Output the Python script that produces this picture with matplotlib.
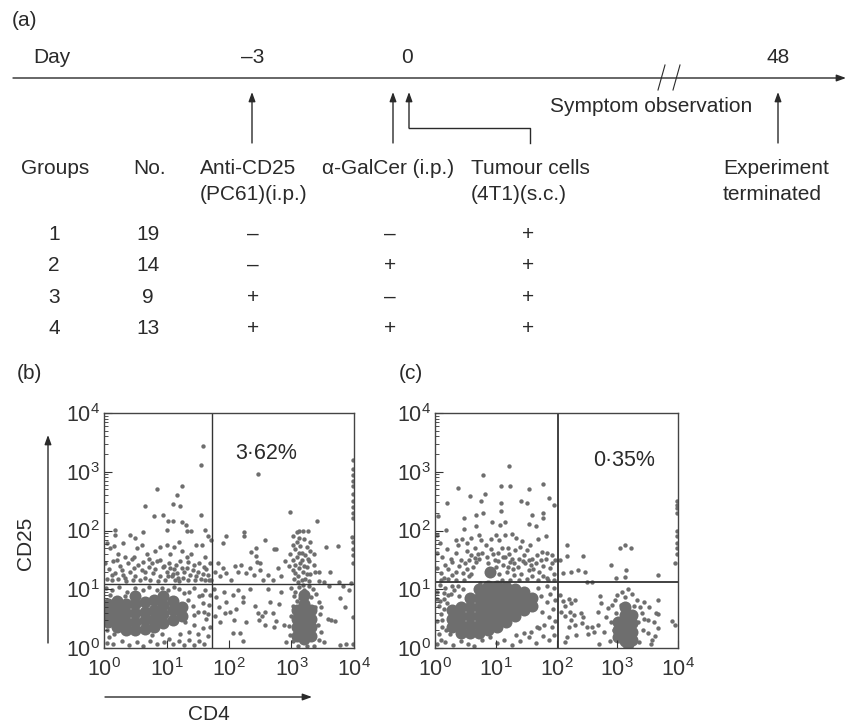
import numpy as np
import matplotlib
matplotlib.use("Agg")
import matplotlib.pyplot as plt

plt.rcParams["font.family"] = ["Liberation Sans", "DejaVu Sans"]
plt.rcParams["mathtext.fontset"] = "custom"
plt.rcParams["mathtext.rm"] = "Liberation Sans"
plt.rcParams["mathtext.it"] = "Liberation Sans"
plt.rcParams["mathtext.default"] = "rm"

###############################################################################
# Data
group_ids = ["1", "2", "3", "4"]
group_sizes = ["19", "14", "9", "13"]
anti_cd25 = ["–", "–", "+", "+"]
galcer = ["–", "+", "–", "+"]
tumour = ["+", "+", "+", "+"]

decades = [0, 1, 2, 3, 4]
gate_b = (1.73, 1.09)
gate_c = (2.02, 1.12)

# log10(CD4), log10(CD25)
b_outliers = [(1.58, 3.43), (1.55, 3.11), (2.46, 2.96), (0.85, 2.71), (1.25, 2.75), (1.17, 2.60),
              (0.66, 2.42), (1.10, 2.45), (1.22, 2.42), (0.80, 2.24), (0.95, 2.27), (1.55, 2.27),
              (2.98, 2.31), (0.17, 2.01), (1.02, 2.16), (1.10, 2.16), (1.25, 2.14), (1.31, 2.09),
              (1.00, 2.01), (1.33, 2.00), (1.40, 2.00), (1.61, 2.01), (0.62, 1.97), (0.41, 1.93),
              (0.49, 1.88), (1.66, 1.90), (1.72, 1.83), (0.17, 1.92), (1.95, 1.90), (1.91, 1.79),
              (2.24, 1.97), (2.24, 1.90), (2.57, 1.83), (2.43, 1.70), (2.36, 1.64), (2.72, 1.68),
              (2.75, 1.68), (2.43, 1.56), (2.49, 1.45), (3.41, 2.16), (3.55, 1.72), (3.75, 1.74),
              (3.99, 3.20), (3.99, 3.05), (3.99, 2.95), (3.99, 2.85), (3.99, 2.75), (3.99, 2.62),
              (3.99, 2.50), (3.99, 2.40), (3.99, 2.30), (3.99, 2.22), (3.97, 1.89), (3.99, 1.80),
              (3.99, 1.68), (3.99, 1.58), (3.99, 1.45)]
b_upper_left = [(0.05, 1.78), (0.10, 1.70), (0.16, 1.74), (0.22, 1.60), (0.30, 1.78), (0.34, 1.55),
                (0.48, 1.55), (0.52, 1.70), (0.60, 1.75), (0.68, 1.60), (0.72, 1.52), (0.82, 1.65),
                (0.90, 1.72), (1.00, 1.75), (1.06, 1.60), (1.12, 1.72), (1.20, 1.80), (1.25, 1.65),
                (1.32, 1.55), (1.40, 1.60), (1.48, 1.75), (1.56, 1.75), (1.62, 1.55), (0.02, 1.45),
                (0.08, 1.35), (0.14, 1.48), (0.18, 1.28), (0.25, 1.40), (0.30, 1.25), (0.38, 1.45),
                (0.42, 1.30), (0.50, 1.22), (0.55, 1.42), (0.60, 1.32), (0.66, 1.20), (0.72, 1.38),
                (0.78, 1.28), (0.84, 1.48), (0.90, 1.22), (0.94, 1.38), (1.00, 1.30), (1.04, 1.45),
                (1.08, 1.22), (1.12, 1.35), (1.17, 1.28), (1.22, 1.48), (1.26, 1.20), (1.32, 1.36),
                (1.38, 1.24), (1.44, 1.42), (1.50, 1.30), (1.55, 1.18), (1.60, 1.38), (1.66, 1.25),
                (1.70, 1.44), (1.72, 1.15), (0.05, 1.18), (0.12, 1.15), (0.22, 1.17), (0.35, 1.14),
                (0.46, 1.16), (0.58, 1.15), (0.74, 1.16), (0.86, 1.14), (0.98, 1.16), (1.14, 1.16),
                (1.20, 1.14), (1.34, 1.15), (1.46, 1.16), (1.62, 1.15), (0.96, 1.40), (1.02, 1.22),
                (1.10, 1.26), (0.44, 1.52), (0.28, 1.33), (0.76, 1.44), (1.28, 1.30), (1.52, 1.44),
                (0.12, 1.25), (0.33, 1.20), (0.48, 1.36), (0.66, 1.30), (0.82, 1.35), (1.06, 1.36),
                (1.15, 1.42), (1.18, 1.20), (1.24, 1.36), (1.35, 1.46), (1.42, 1.32), (1.48, 1.22),
                (1.58, 1.26), (1.64, 1.34), (1.68, 1.16), (0.20, 1.50), (0.62, 1.46), (0.90, 1.50)]
b_middle = [(1.78, 1.30), (1.82, 1.45), (1.86, 1.22), (1.90, 1.36), (1.96, 1.28), (2.03, 1.16),
            (2.10, 1.40), (2.14, 1.30), (2.20, 1.42), (2.28, 1.28), (2.34, 1.36), (2.40, 1.24),
            (2.44, 1.46), (2.50, 1.32), (2.54, 1.15), (2.62, 1.25), (2.70, 1.16), (2.78, 1.36),
            (2.84, 1.22), (2.90, 1.48), (1.76, 1.00), (1.80, 0.86), (1.84, 0.70), (1.78, 0.55),
            (1.86, 0.45), (1.92, 0.95), (1.96, 0.78), (1.94, 0.60), (2.02, 0.62), (2.06, 0.90),
            (2.08, 0.48), (2.12, 0.66), (2.14, 0.98), (2.22, 0.86), (2.22, 0.78), (2.06, 0.25),
            (2.18, 0.25), (2.28, 0.45), (2.22, 0.12), (2.34, 1.00), (2.42, 0.72), (2.46, 0.60),
            (2.52, 0.55), (2.58, 0.62), (2.48, 0.48), (2.58, 0.40), (2.62, 1.00), (2.66, 0.78),
            (2.70, 0.60), (2.76, 0.46), (2.80, 0.75), (2.84, 0.96), (2.88, 0.40), (2.72, 0.36),
            (3.58, 0.50), (3.64, 0.48), (3.70, 0.46), (3.78, 0.85), (3.82, 1.05), (3.86, 0.70),
            (3.92, 0.98), (3.95, 1.10), (3.76, 1.12), (3.62, 1.30), (3.98, 0.52), (3.98, 0.06),
            (3.88, 0.06), (3.78, 0.05), (3.60, 1.05), (3.48, 0.70), (3.52, 1.12), (3.44, 1.30)]
b_right = [(3.02, 1.90), (3.08, 1.97), (3.12, 2.00), (3.18, 2.00), (3.26, 2.00), (3.12, 1.88),
           (3.20, 1.86), (3.30, 1.80), (3.02, 1.76), (3.06, 1.68), (3.14, 1.74), (3.24, 1.72),
           (3.30, 1.65), (3.36, 1.60), (2.98, 1.60), (3.02, 1.50), (3.08, 1.55), (3.12, 1.62),
           (3.16, 1.50), (3.22, 1.58), (3.28, 1.48), (3.36, 1.42), (2.96, 1.40), (3.02, 1.32),
           (3.06, 1.42), (3.12, 1.36), (3.18, 1.30), (3.24, 1.38), (3.30, 1.26), (3.38, 1.30),
           (3.44, 1.14), (3.04, 1.18), (3.10, 1.22), (3.16, 1.16), (3.22, 1.18), (3.28, 1.14),
           (3.00, 1.02), (3.06, 0.96), (3.12, 1.04), (3.34, 1.00), (3.40, 0.92), (3.44, 0.78),
           (3.02, 0.72), (3.00, 0.55), (2.96, 0.38), (3.46, 0.58), (3.42, 0.40), (3.48, 0.28),
           (2.98, 0.22), (3.02, 0.12), (2.92, 0.10), (3.44, 0.14), (3.52, 0.10), (3.10, 0.04),
           (3.24, 0.03), (3.36, 0.04), (3.14, 0.85), (3.32, 0.86), (3.28, 1.05), (3.20, 0.98),
           (3.06, 1.28), (3.14, 1.45), (3.20, 1.40), (3.26, 1.52), (3.10, 1.12), (3.18, 1.08),
           (3.24, 1.26), (3.08, 1.80), (3.16, 1.62), (3.04, 0.88), (3.08, 0.80), (3.38, 0.70)]
b_lower_left = [(0.04, 0.08), (0.14, 0.06), (0.28, 0.12), (0.40, 0.05), (0.52, 0.10), (0.62, 0.04),
                (0.74, 0.12), (0.84, 0.06), (0.96, 0.10), (1.04, 0.16), (1.10, 0.07), (1.20, 0.12),
                (1.28, 0.05), (1.36, 0.14), (1.44, 0.05), (1.52, 0.12), (1.60, 0.06), (1.66, 0.20),
                (1.70, 0.35), (1.64, 0.50), (1.58, 0.34), (1.50, 0.24), (1.44, 0.40), (1.36, 0.28),
                (1.30, 0.44), (1.22, 0.24), (1.60, 0.62), (1.68, 0.74), (1.70, 0.90), (1.62, 0.98),
                (1.52, 0.88), (1.44, 1.02), (1.36, 0.96), (1.28, 0.94), (1.20, 1.00), (1.12, 1.04),
                (1.02, 0.98), (0.92, 1.02), (0.84, 0.98), (0.72, 1.04), (0.62, 0.98), (0.50, 1.02),
                (0.36, 0.96), (0.24, 1.04), (0.12, 0.98), (0.03, 1.02), (0.10, 0.90), (0.34, 0.88),
                (0.04, 0.30), (0.08, 0.18), (0.16, 0.24), (0.76, 0.22), (0.92, 0.24), (1.42, 0.72),
                (1.50, 0.62), (1.58, 0.76), (1.44, 0.56), (1.56, 0.90), (1.34, 0.82), (1.66, 0.58)]
b_blobs = [(0.06, 0.45), (0.06, 0.60), (0.06, 0.75), (0.20, 0.35), (0.20, 0.50), (0.20, 0.65), (0.20, 0.80),
           (0.35, 0.30), (0.35, 0.45), (0.35, 0.60), (0.35, 0.75), (0.50, 0.30), (0.50, 0.45),
           (0.50, 0.60), (0.50, 0.75), (0.50, 0.88), (0.65, 0.32), (0.65, 0.47), (0.65, 0.62),
           (0.65, 0.78), (0.80, 0.35), (0.80, 0.50), (0.80, 0.65), (0.80, 0.82), (0.95, 0.42),
           (0.95, 0.58), (0.95, 0.74), (0.95, 0.88), (1.10, 0.48), (1.10, 0.64), (1.10, 0.80),
           (1.25, 0.55), (1.25, 0.70), (3.08, 0.20), (3.08, 0.35), (3.08, 0.50), (3.08, 0.65),
           (3.20, 0.15), (3.20, 0.30), (3.20, 0.45), (3.20, 0.60), (3.20, 0.75), (3.20, 0.90),
           (3.32, 0.20), (3.32, 0.35), (3.32, 0.50), (3.32, 0.65)]

# log10(CD4), log10(CD25)
c_outliers = [(1.22, 3.09), (0.79, 2.94), (0.38, 2.72), (1.08, 2.76), (1.23, 2.76), (1.55, 2.70),
              (1.77, 2.79), (0.82, 2.62), (0.58, 2.58), (0.75, 2.51), (0.20, 2.47), (1.08, 2.47),
              (1.41, 2.51), (1.52, 2.47), (1.88, 2.55), (1.96, 2.43), (1.08, 2.33), (0.79, 2.29),
              (0.67, 2.26), (1.59, 2.27), (1.77, 2.29), (1.77, 2.21), (0.47, 2.22), (0.05, 2.24),
              (0.94, 2.14), (1.15, 2.14), (0.18, 2.01), (0.47, 2.03), (0.67, 2.07), (1.07, 2.10),
              (1.55, 2.11), (1.67, 2.07), (3.04, 1.71), (3.12, 1.75), (3.23, 1.71), (2.18, 1.75),
              (2.18, 1.56), (2.43, 1.57), (2.90, 1.42), (3.15, 1.33), (3.67, 1.24), (2.98, 1.20),
              (3.12, 1.21), (2.10, 1.28), (2.24, 1.30), (2.35, 1.32), (2.47, 1.30), (2.50, 1.13),
              (2.58, 1.13), (3.99, 2.50), (3.99, 2.44), (3.99, 2.38), (3.99, 2.30), (3.99, 2.00),
              (3.99, 1.90), (3.99, 1.78), (3.99, 1.70), (3.99, 1.60), (3.95, 1.45), (2.06, 1.50)]
c_upper_left = [(0.34, 1.84), (0.38, 1.76), (0.44, 1.86), (0.52, 1.78), (0.60, 1.88), (0.72, 1.92),
                (0.76, 1.84), (0.84, 1.76), (0.92, 1.85), (1.00, 1.92), (1.06, 1.84), (1.16, 1.92),
                (1.26, 1.94), (1.34, 1.88), (1.44, 1.82), (1.56, 1.76), (1.70, 1.85), (1.82, 1.90),
                (0.04, 1.92), (0.08, 1.78), (0.04, 1.62), (0.12, 1.55), (0.20, 1.68), (0.26, 1.52),
                (0.34, 1.62), (0.42, 1.50), (0.52, 1.65), (0.60, 1.58), (0.66, 1.70), (0.72, 1.52),
                (0.78, 1.62), (0.86, 1.55), (0.92, 1.68), (0.98, 1.50), (1.04, 1.62), (1.12, 1.55),
                (1.20, 1.70), (1.26, 1.52), (1.32, 1.66), (1.40, 1.72), (1.46, 1.58), (1.52, 1.66),
                (1.60, 1.52), (1.68, 1.58), (1.76, 1.64), (1.84, 1.62), (1.92, 1.58), (0.04, 1.36),
                (0.10, 1.28), (0.16, 1.42), (0.22, 1.34), (0.28, 1.46), (0.34, 1.30), (0.40, 1.40),
                (0.46, 1.28), (0.50, 1.44), (0.56, 1.22), (0.62, 1.38), (0.68, 1.46), (1.06, 1.26),
                (1.12, 1.42), (1.18, 1.30), (1.24, 1.46), (1.30, 1.24), (1.36, 1.38), (1.42, 1.26),
                (1.48, 1.44), (1.54, 1.32), (1.60, 1.22), (1.66, 1.44), (1.72, 1.30), (1.78, 1.40),
                (1.84, 1.20), (1.90, 1.36), (1.96, 1.26), (1.98, 1.50), (0.10, 1.16), (0.22, 1.18),
                (0.34, 1.15), (0.48, 1.16), (1.10, 1.16), (1.24, 1.16), (1.38, 1.15), (1.52, 1.17),
                (1.70, 1.16), (1.86, 1.15), (1.96, 1.15), (0.74, 1.10), (1.16, 1.55), (1.38, 1.52),
                (0.56, 1.50), (0.88, 1.44), (1.00, 1.38), (1.28, 1.34), (1.58, 1.42), (1.82, 1.52),
                (0.70, 1.60), (0.95, 1.60), (1.10, 1.70), (1.22, 1.60), (1.30, 1.44), (1.45, 1.48),
                (1.55, 1.50), (1.62, 1.34), (1.75, 1.50), (1.78, 1.22), (1.92, 1.45), (0.14, 1.20),
                (0.28, 1.24), (0.52, 1.34), (0.60, 1.26), (0.66, 1.54), (1.04, 1.48), (1.20, 1.38)]
c_lower_right = [(2.06, 0.90), (2.10, 0.80), (2.14, 0.72), (2.20, 0.84), (2.24, 0.76), (2.30, 0.82),
                 (2.08, 0.62), (2.14, 0.55), (2.22, 0.62), (2.24, 0.48), (2.30, 0.40), (2.20, 0.36),
                 (2.28, 0.56), (2.40, 0.60), (2.44, 0.52), (2.42, 0.42), (2.50, 0.36), (2.58, 0.36),
                 (2.62, 0.28), (2.52, 0.24), (2.18, 0.18), (2.32, 0.22), (2.14, 0.10), (2.78, 0.28),
                 (2.68, 0.40), (2.72, 0.88), (2.74, 0.76), (2.68, 0.62), (2.82, 0.52), (2.84, 0.68),
                 (2.90, 0.44), (2.98, 0.60), (3.06, 0.74), (3.12, 0.86), (3.18, 1.00), (3.08, 0.96),
                 (3.24, 0.92), (3.32, 0.82), (3.44, 0.78), (3.52, 0.70), (3.67, 0.82), (3.64, 0.60),
                 (3.67, 0.58), (3.40, 0.60), (3.50, 0.48), (3.60, 0.44), (3.67, 0.34), (3.62, 0.20),
                 (3.58, 0.14), (3.50, 0.26), (3.42, 0.30), (3.90, 0.46), (3.95, 0.40), (3.56, 0.06),
                 (3.36, 0.10), (2.88, 0.12), (2.70, 0.06), (3.00, 0.20), (2.94, 0.30), (3.34, 0.44),
                 (2.92, 0.74), (2.96, 0.82), (3.00, 0.90), (3.28, 0.72), (3.38, 0.70), (3.44, 0.50)]
c_lower_left = [(0.04, 0.06), (0.16, 0.10), (0.30, 0.05), (0.42, 0.12), (0.54, 0.06), (0.64, 0.04),
                (0.78, 0.14), (0.90, 0.18), (1.02, 0.08), (1.14, 0.14), (1.26, 0.05), (1.40, 0.12),
                (1.54, 0.18), (1.66, 0.08), (1.78, 0.20), (1.88, 0.14), (1.96, 0.22), (1.72, 0.34),
                (1.80, 0.40), (1.92, 0.36), (1.98, 0.46), (1.88, 0.52), (1.94, 0.66), (1.98, 0.82),
                (1.90, 0.92), (1.96, 1.02), (1.84, 0.78), (1.74, 0.88), (1.68, 0.36), (1.58, 0.28),
                (1.46, 0.26), (1.34, 0.22), (1.76, 0.62), (1.84, 1.05), (1.70, 1.02), (0.06, 0.24),
                (0.12, 0.36), (0.04, 0.46), (0.10, 0.58), (0.06, 0.72), (0.14, 0.84), (0.04, 0.96),
                (0.16, 1.02), (0.26, 0.92), (0.32, 0.98), (0.20, 0.76), (0.24, 0.24), (0.08, 1.08),
                (0.10, 0.14), (0.18, 0.30), (0.12, 0.48), (0.15, 0.66), (0.09, 0.80), (0.22, 0.90),
                (0.40, 0.88), (0.46, 1.00), (0.38, 1.06), (0.28, 1.06), (0.14, 0.94), (0.03, 0.84)]
c_blobs = [(0.28, 0.35), (0.28, 0.50), (0.28, 0.65), (0.42, 0.25), (0.42, 0.40), (0.42, 0.55), (0.42, 0.70),
           (0.57, 0.25), (0.57, 0.40), (0.57, 0.55), (0.57, 0.70), (0.57, 0.85), (0.72, 0.25),
           (0.72, 0.40), (0.72, 0.55), (0.72, 0.70), (0.72, 0.85), (0.72, 1.00), (0.87, 0.30),
           (0.87, 0.45), (0.87, 0.60), (0.87, 0.75), (0.87, 0.90), (0.87, 1.05), (1.02, 0.35),
           (1.02, 0.50), (1.02, 0.65), (1.02, 0.80), (1.02, 0.95), (1.02, 1.05), (1.17, 0.45),
           (1.17, 0.60), (1.17, 0.75), (1.17, 0.90), (1.17, 1.03), (1.32, 0.55), (1.32, 0.70),
           (1.32, 0.85), (1.32, 1.00), (1.47, 0.65), (1.47, 0.80), (1.47, 0.95), (1.60, 0.72),
           (1.60, 0.85), (0.90, 1.30), (3.02, 0.18), (3.02, 0.30), (3.02, 0.45), (3.12, 0.12), (3.12, 0.27),
           (3.12, 0.42), (3.12, 0.57), (3.12, 0.70), (3.24, 0.14), (3.24, 0.28), (3.24, 0.43),
           (3.24, 0.56), (3.18, 0.06)]

###############################################################################
# Figure, one overlay in pixel units for the schematic
W, H = 849, 725
fig = plt.figure(figsize=(W / 100, H / 100), dpi=100)
ov = fig.add_axes([0, 0, 1, 1], zorder=5)
ov.set_xlim(0, W)
ov.set_ylim(H, 0)
ov.axis("off")

TXT = "#2a2a2a"
FS = 15


def label(x, y, s, ha="left", **kw):
    ov.text(x, y, s, ha=ha, va="center", fontsize=kw.pop("fontsize", FS), color=TXT, **kw)


def arrow(x0, y0, x1, y1):
    ov.annotate("", xy=(x1, y1), xytext=(x0, y0),
                arrowprops=dict(arrowstyle="-|>,head_length=0.55,head_width=0.2", lw=1,
                                color=TXT, shrinkA=0, shrinkB=0))


label(12, 20, "(a)")
label(52, 57, "Day", ha="center")
label(253, 57, "–3", ha="center")
label(407, 57, "0", ha="center")
label(778, 57, "48", ha="center")

arrow(13, 78, 846, 78)
ov.plot([666, 672], [78, 78], color="white", lw=3, solid_capstyle="butt")
ov.plot([658, 665], [90, 65], color=TXT, lw=0.8)
ov.plot([673, 680], [90, 65], color=TXT, lw=0.8)

arrow(252, 143, 252, 92)
arrow(393, 143, 393, 92)
arrow(409, 128, 409, 92)
ov.plot([409, 530, 530], [128, 128, 143], color=TXT, lw=1)
arrow(778, 143, 778, 92)

label(550, 106, "Symptom observation")
label(21, 168, "Groups")
label(133, 168, "No.")
label(200, 168, "Anti-CD25")
label(200, 194, "(PC61)(i.p.)")
label(322, 168, "α-GalCer (i.p.)")
label(471, 168, "Tumour cells")
label(471, 194, "(4T1)(s.c.)")
label(723, 168, "Experiment")
label(723, 194, "terminated")

row_y = [234, 265, 297, 328]
for i, y in enumerate(row_y):
    label(54, y, group_ids[i], ha="center")
    label(148, y, group_sizes[i], ha="center")
    label(253, y, anti_cd25[i], ha="center")
    label(390, y, galcer[i], ha="center")
    label(528, y, tumour[i], ha="center")

label(17, 373, "(b)")
label(399, 373, "(c)")

label(26, 543, "CD25", ha="center", rotation=90)
arrow(48, 643, 48, 435)
arrow(105, 697, 312, 697)
label(209, 714, "CD4", ha="center")


###############################################################################
# Dot plots
def dot_plot(left, right, gate, dots, blobs, pct, pct_xy, gate_lw):
    ax = fig.add_axes([left / W, 1 - 648 / H, (right - left) / W, 235 / H])
    ax.set_xscale("log")
    ax.set_yscale("log")
    dots = np.array(dots)
    blobs = np.array(blobs)
    ax.scatter(10 ** blobs[:, 0], 10 ** blobs[:, 1], s=75, color="#6e6e6e", lw=0)
    ax.scatter(10 ** dots[:, 0], 10 ** dots[:, 1], s=10, color="#6e6e6e", lw=0)
    ax.set_xlim(1, 1e4)
    ax.set_ylim(1, 1e4)
    ax.axvline(10 ** gate[0], color="#333333", lw=gate_lw)
    ax.axhline(10 ** gate[1], color="#333333", lw=gate_lw)
    ticks = [10.0 ** d for d in decades]
    labels = ["$10^{%d}$" % d for d in decades]
    ax.set_xticks(ticks, labels)
    ax.set_yticks(ticks, labels)
    ax.tick_params(which="major", direction="in", length=6, width=0.8, labelsize=15.5,
                   colors="#333333")
    ax.tick_params(axis="x", which="major", pad=7)
    ax.tick_params(axis="y", which="major", pad=3)
    ax.tick_params(which="minor", direction="in", length=3, width=0.6, colors="#333333")
    for s in ax.spines.values():
        s.set_color("#444444")
        s.set_linewidth(1)
    label(pct_xy[0], pct_xy[1], pct, ha="center", fontsize=15.5)
    return ax


dot_plot(104, 354, gate_b, b_outliers + b_upper_left + b_middle + b_right + b_lower_left,
         b_blobs, "3·62%", (266, 453), 1)
dot_plot(435, 678, gate_c, c_outliers + c_upper_left + c_lower_right + c_lower_left,
         c_blobs, "0·35%", (624, 460), 1.3)

fig.savefig("out.png", dpi=100)
